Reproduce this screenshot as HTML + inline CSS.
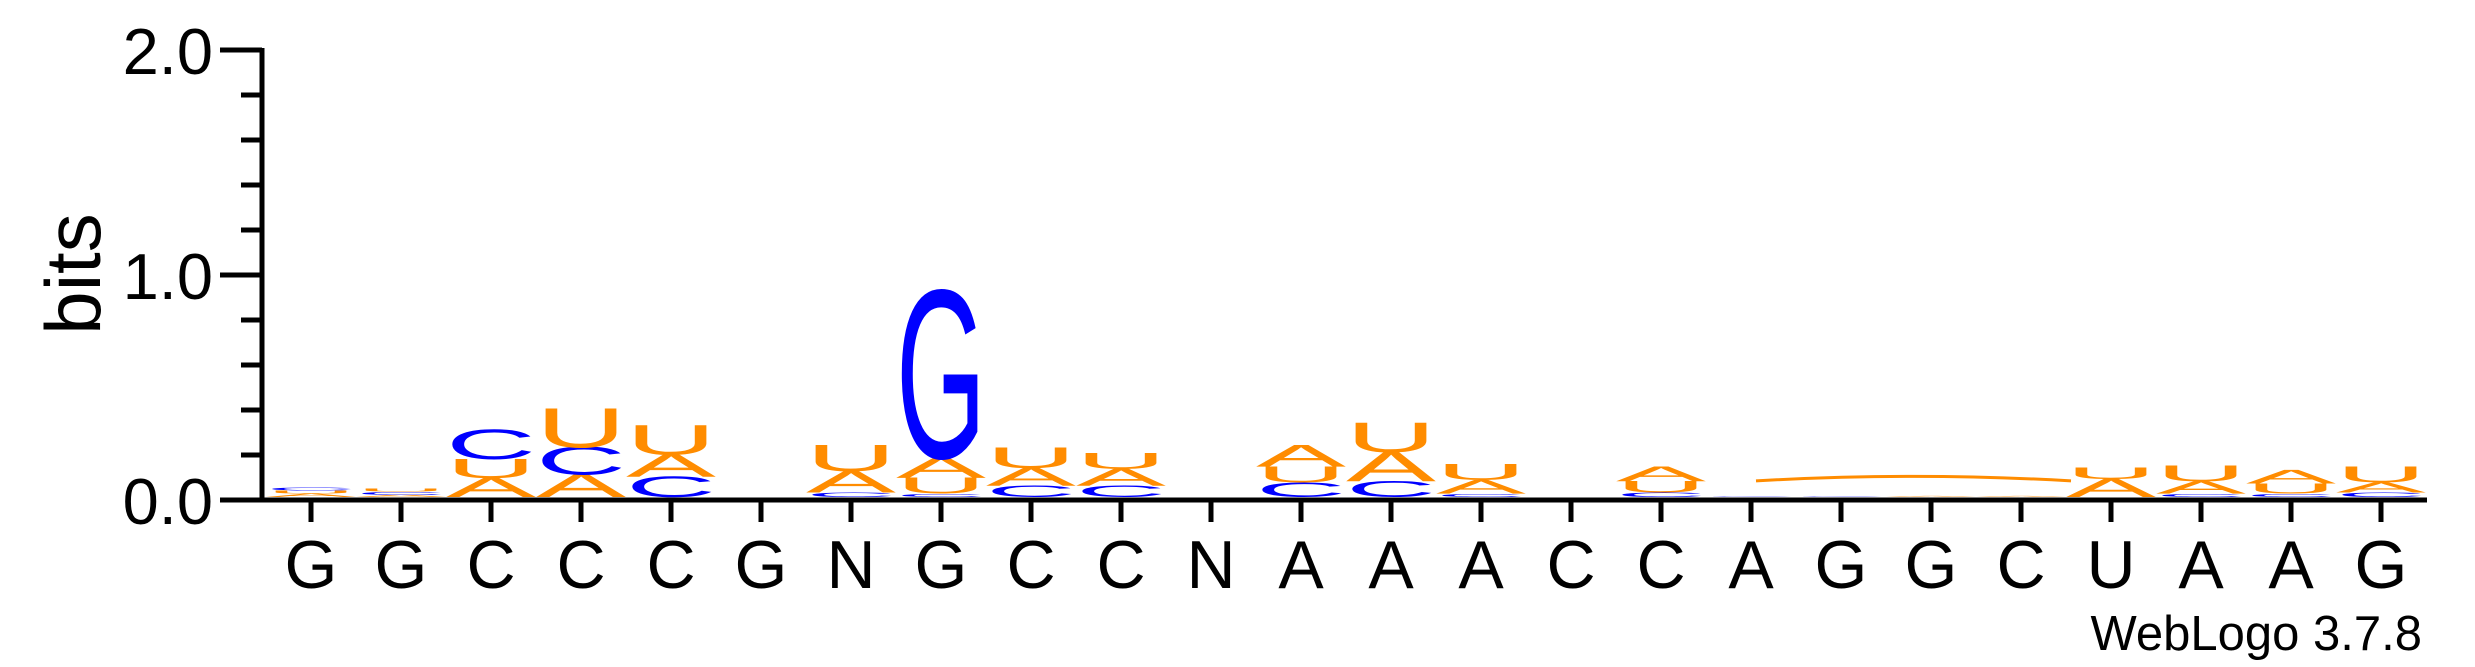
<!DOCTYPE html>
<html><head><meta charset="utf-8"><style>
html,body{margin:0;padding:0;background:#fff;}
svg{display:block;font-family:"Liberation Sans",sans-serif;}
</style></head><body>
<svg id="logo" width="2475" height="667" viewBox="0 0 2475 667" xmlns="http://www.w3.org/2000/svg">
<g id="marks"></g>
<g id="axes"></g>
<text transform="translate(100,274) rotate(-90)" text-anchor="middle" font-size="78" fill="#000">bits</text>
<text x="2422" y="650" text-anchor="end" font-size="49" fill="#000">WebLogo 3.7.8</text>
</svg>
<script>
const labels = ['G','G','C','C','C','G','N','G','C','C','N','A','A','A','C','C','A','G','G','C','U','A','A','G'];
const stackLetters = [
 ['A','U','C'],['A','C','U'],['A','U','C'],['A','C','U'],['C','A','U'],[],
 ['C','A','U'],['C','U','A','G'],['C','A','U'],['C','A','U'],[],
 ['C','U','A'],['C','A','U'],['C','A','U'],[],['C','U','A'],
 ['C'],['C'],['A'],['A'],['A','U'],['C','A','U'],['C','U','A'],['C','A','U']
];
const stackBits = [
 [0.015,0.015,0.015],[0.01,0.015,0.015],[0.085,0.085,0.13],[0.1,0.12,0.17],[0.09,0.10,0.13],[],
 [0.02,0.095,0.115],[0.015,0.07,0.09,0.73],[0.05,0.08,0.09],[0.05,0.075,0.07],[],
 [0.065,0.07,0.095],[0.07,0.13,0.13],[0.015,0.06,0.07],[],[0.02,0.05,0.065],
 [0.003],[0.003],[0.005],[0.005],[0.08,0.05],[0.015,0.055,0.07],[0.015,0.045,0.06],[0.02,0.045,0.07]
];
const yTicks = [0,0.2,0.4,0.6,0.8,1.0,1.2,1.4,1.6,1.8,2.0];
const yMajorLabels = ['0.0','1.0','2.0'];
const yMajorValues = [0,1,2];

const NS='http://www.w3.org/2000/svg';
const x0=311, colW=90;
function xScale(i){return x0+i*colW;}
function yScale(v){return 500-v*225;}
const colors={A:'#FF8C00',U:'#FF8C00',C:'#0000FF',G:'#0000FF'};
const marks=document.getElementById('marks');
const axes=document.getElementById('axes');
function mk(tag,attrs,parent){const e=document.createElementNS(NS,tag);for(const k in attrs)e.setAttribute(k,attrs[k]);parent.appendChild(e);return e;}

stackLetters.forEach((lets,i)=>{
  let base=yScale(0)-3;
  const cx=xScale(i);
  lets.forEach((L,j)=>{
    const h=stackBits[i][j]*225;
    const t=mk('text',{x:0,y:0,'font-size':100,fill:colors[L],textLength:90,lengthAdjust:'spacingAndGlyphs',
      transform:`translate(${cx-45},${base}) scale(1,${(h/68).toFixed(4)})`},marks);
    
    
    t.textContent=L;
    base-=h;
  });
});
(function(){
  const xa=xScale(16)+5, xb=xScale(20)-40;
  const p=mk('path',{d:`M${xa},${yScale(0.085)} Q${(xa+xb)/2},${yScale(0.125)} ${xb},${yScale(0.085)}`,stroke:'#FF8C00','stroke-width':3,fill:'none'},marks);
  
  
})();

const ya=mk('line',{x1:262,y1:yScale(2)-2,x2:262,y2:yScale(0)+2.5,stroke:'#000','stroke-width':5},axes);


yTicks.forEach(v=>{
  const major=Math.abs(v-Math.round(v))<1e-6;
  const l=mk('line',{x1:major?220:241,y1:yScale(v),x2:262,y2:yScale(v),stroke:'#000','stroke-width':5},axes);
  
  
});
yMajorValues.forEach((v,k)=>{
  const t=mk('text',{x:213,y:yScale(v)+24,'text-anchor':'end','font-size':65,fill:'#000'},axes);
  
  
  t.textContent=yMajorLabels[k];
});
const xa=mk('line',{x1:260,y1:500,x2:2427,y2:500,stroke:'#000','stroke-width':5},axes);


labels.forEach((L,i)=>{
  const l=mk('line',{x1:xScale(i),y1:500,x2:xScale(i),y2:522,stroke:'#000','stroke-width':5},axes);
  
  
  const t=mk('text',{x:xScale(i),y:588,'text-anchor':'middle','font-size':68,fill:'#000'},axes);
  
  
  t.textContent=L;
});
</script>
</body></html>
